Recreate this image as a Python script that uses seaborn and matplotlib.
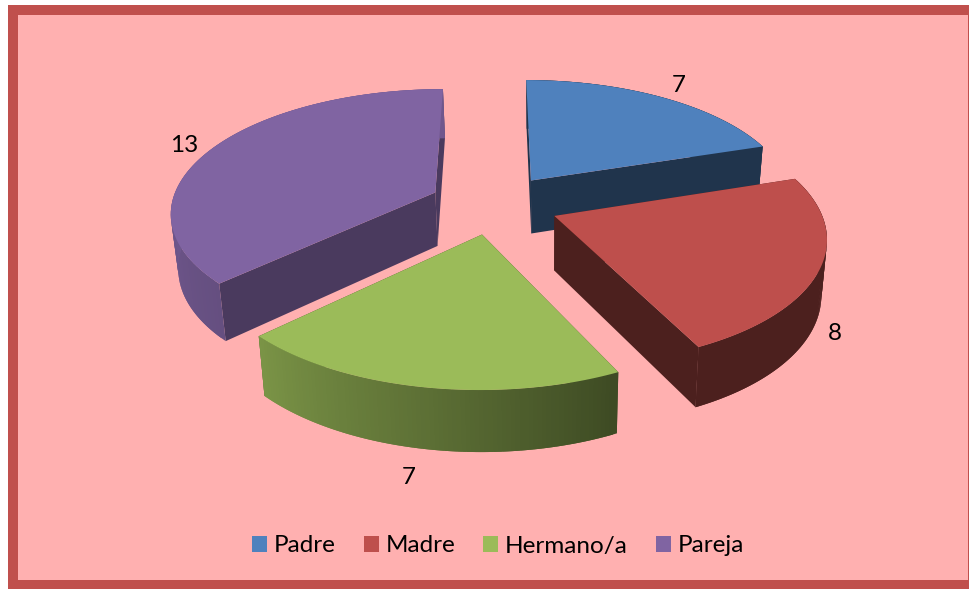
import numpy as np
import seaborn as sns
import matplotlib.pyplot as plt
from matplotlib.patches import Patch, Rectangle

# datos
categorias = ['Padre', 'Madre', 'Hermano/a', 'Pareja']
valores = [7, 8, 7, 13]

colores = sns.color_palette(['#4F81BD', '#BE4F4C', '#9BBB59', '#8064A2'])
sombra_pared = [0.4, 0.4, 0.4, 0.58]
etiqueta_xy = [(679, 85), (835, 334), (409, 478), (184, 146)]

sns.set_theme(style='white')
plt.rcParams['font.family'] = ['Lato', 'DejaVu Sans']

# parametros de la perspectiva, en pixeles
cx, cy = 494, 204
radio_x, radio_y = 264, 122
k = 0.15
separacion = 0.245
alto = 54


def proyectar(u, v):
    s = 1 / (1 - k * v)
    return cx + radio_x * u * s, cy + radio_y * v * s, s


def base(x, y, s):
    # la cara de abajo queda un poco mas lejos de la camara
    return 545 + (x - 545) * 0.98, y + alto * (0.35 + 0.65 * s)


def sombra_arco(theta):
    return np.interp(theta, [72, 155, 190, 226, 270, 360], [0.4, 0.4, 0.6, 0.79, 0.87, 0.87])


def tono(color, f):
    return tuple(np.array(color) * f)


fig = plt.figure(figsize=(9.7, 5.89), dpi=100, facecolor='white')
ax = fig.add_axes([0, 0, 1, 1])
ax.set_xlim(0, 970)
ax.set_ylim(589, 0)
ax.axis('off')

# marco y fondo
ax.add_patch(Rectangle((8, 5), 962, 584, facecolor='#C0504D', edgecolor='none', zorder=0))
ax.add_patch(Rectangle((18.5, 14.5), 949.5, 565.5, facecolor='#FFB0B0', edgecolor='none', zorder=1))

# angulos de cada porcion, en sentido horario desde arriba
fin = np.cumsum(valores) / np.sum(valores) * 360
inicio = np.r_[0, fin[:-1]]

# orden de dibujo: de atras hacia adelante
orden = [0, 3, 1, 2]
z = 2
for i in orden:
    a, b = inicio[i], fin[i]
    medio = np.radians((a + b) / 2)
    ou, ov = separacion * np.sin(medio), -separacion * np.cos(medio)
    thetas = np.linspace(a, b, 90)
    arco_u = ou + np.sin(np.radians(thetas))
    arco_v = ov - np.cos(np.radians(thetas))
    ax_, ay_, s_ = proyectar(arco_u, arco_v)
    bx_, by_ = base(ax_, ay_, s_)
    px, py, ps = proyectar(ou, ov)
    pbx, pby = base(px, py, ps)

    # paredes rectas, primero la que queda mas atras
    paredes = [(arco_v[0], 0), (arco_v[-1], -1)]
    paredes.sort(key=lambda p: p[0])
    for _, j in paredes:
        c = tono(colores[i], sombra_pared[i])
        ax.fill([px, ax_[j], bx_[j], pbx], [py, ay_[j], by_[j], pby],
                facecolor=c, edgecolor='none', zorder=z)
        z += 1

    # pared curva: cada tramo pisa al siguiente para que no queden rayas
    for j in range(len(thetas) - 1):
        c = tono(colores[i], sombra_arco((thetas[j] + thetas[j + 1]) / 2))
        m = min(j + 2, len(thetas) - 1)
        ax.fill([ax_[j], ax_[j + 1], ax_[m], bx_[m], bx_[j + 1], bx_[j]],
                [ay_[j], ay_[j + 1], ay_[m], by_[m], by_[j + 1], by_[j]],
                facecolor=c, edgecolor='none', zorder=z)
        z += 1

    # cara de arriba
    ax.fill(np.r_[px, ax_], np.r_[py, ay_], facecolor=colores[i], edgecolor='none', zorder=z)
    z += 1

for valor, (x, y) in zip(valores, etiqueta_xy):
    ax.text(x, y, str(valor), ha='center', va='center', fontsize=17.5, color='black', zorder=z)

handles = [Patch(facecolor=c, edgecolor='none', label=n) for c, n in zip(colores, categorias)]
ax.legend(handles=handles, loc='center', bbox_to_anchor=(498 / 970, 1 - 546 / 589), ncol=4,
          frameon=False, fontsize=17.5, handlelength=0.62, handleheight=0.62,
          handletextpad=0.28, columnspacing=1.15, borderpad=0, labelcolor='black')

fig.savefig('out.png', dpi=100)
